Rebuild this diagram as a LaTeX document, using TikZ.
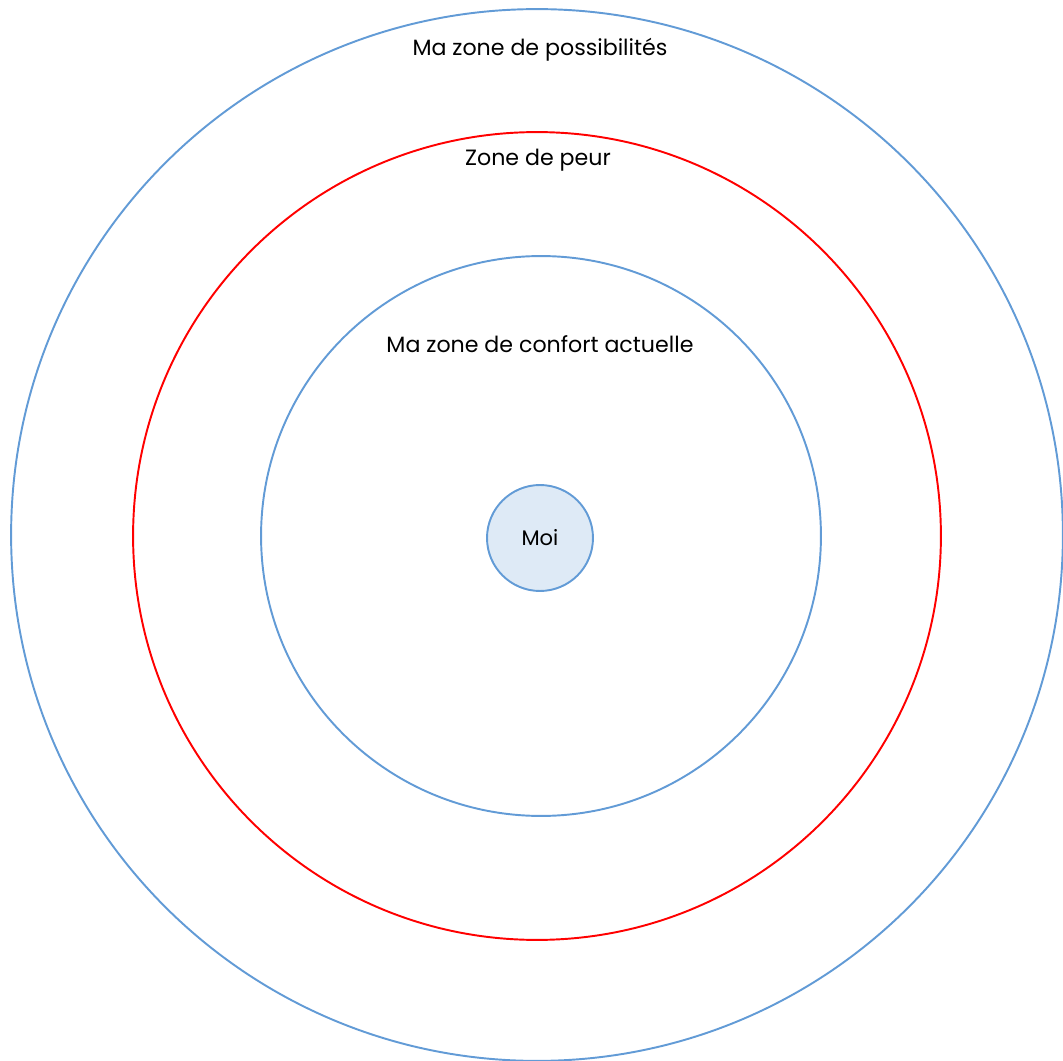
\documentclass[tikz,border=0pt]{standalone}
\usepackage{fontspec}
\setmainfont{Poppins}
\usepackage{tikz}
\usetikzlibrary{positioning}

\definecolor{zoneblue}{RGB}{98,155,214}
\definecolor{moifill}{RGB}{222,234,246}
\definecolor{peurred}{RGB}{255,0,0}

\tikzset{
	zone/.style={draw=zoneblue, line width=1.1pt},
	zonelabel/.style={color=black, font=\fontsize{12.6}{15}\selectfont, inner sep=0pt}
}

\begin{document}
\begin{tikzpicture}[x=0.02cm,y=-0.02cm]
		\useasboundingbox (0,0) rectangle (1063,1061);
		
		\draw[zone] (537,535) circle (10.52cm);
		
		\draw[draw=peurred, line width=1.1pt] (537,536) circle (8.08cm);
		
		\draw[zone] (541,536) circle (5.6cm);
		
		\node[zone, fill=moifill, circle, minimum size=2.12cm, inner sep=0pt, font=\fontsize{12}{14}\selectfont] (moi) at (540,538) {Moi};
		
		\node[zonelabel] (possibilites) at (540,50) {Ma zone de possibilités};
		\node[zonelabel] (peur) at (538,160) {Zone de peur};
		\node[zonelabel] (confort) at (540,344) {Ma zone de confort actuelle};
		
\end{tikzpicture}
\end{document}
